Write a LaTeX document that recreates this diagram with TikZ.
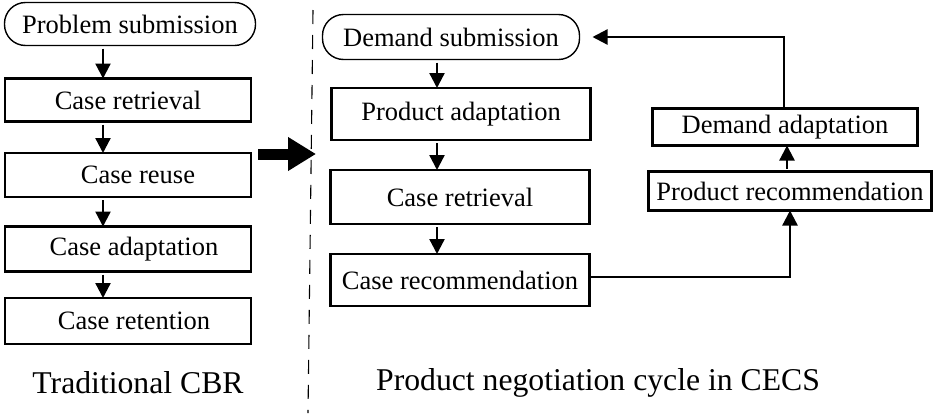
\documentclass[tikz,border=0pt]{standalone}
\usepackage{fontspec}
\setmainfont{Liberation Serif}
\usetikzlibrary{arrows.meta,positioning}
\tikzset{
    %Define standard arrow tip
    >={Triangle[length=15pt,width=15pt]},
    %Define style for boxes
    stepbox/.style={
           rectangle,
           draw=black,
           line width=2.8pt,
           minimum width=246pt,
           minimum height=44pt,
           inner sep=0pt,
           outer sep=0pt,
           font=\fontsize{26.5}{28}\selectfont},
    roundbox/.style={
           stepbox,
           line width=1.4pt,
           rounded corners=21pt},
    % Define arrow style
    flow/.style={
           ->,
           line width=2.3pt,
           shorten <=3pt},
    caption/.style={font=\fontsize{31.7}{34}\selectfont}
}
\begin{document}
\begin{tikzpicture}[x=1pt,y=-1pt]
  \useasboundingbox (0,0) rectangle (933,413);
  % lanes for the vertical arrows
  \coordinate (cbrlane) at (103,0);
  \coordinate (neglane) at (437,0);
  \coordinate (uplane) at (787,0);
  \coordinate (backlane) at (784,0);
  % traditional CBR
  \node[roundbox,minimum width=251pt,minimum height=43pt] (probsub) at (130,24) {Problem submission};
  \node[stepbox,minimum height=43pt] (cbrretr) at (128,100) {Case retrieval};
  \node[stepbox] (cbrreuse) at (128,175) {\hspace*{20pt}Case reuse};
  \node[stepbox,minimum height=45pt] (cbradapt) at (128,249) {\hspace*{12pt}Case adaptation};
  \node[stepbox,minimum height=46pt] (cbrretain) at (128,321) {\hspace*{12pt}Case retention};
  \foreach \a/\b in {probsub/cbrretr,cbrretr/cbrreuse,cbrreuse/cbradapt,cbradapt/cbrretain}
    \draw[flow] (cbrlane |- \a.south) -- (cbrlane |- \b.north);
  \node[caption] (cbrlabel) at (138,383) {Traditional CBR};
  % separator and transition
  \coordinate (septop) at (313,10);
  \coordinate (sepbot) at (308,413);
  \draw[line width=1.1pt,dash pattern=on 14pt off 11pt] (septop) -- (sepbot);
  \coordinate (fatstart) at (258,154);
  \coordinate (fatend) at (316,154);
  \draw[line width=11pt,-{Triangle[length=28pt,width=32pt]}] (fatstart) -- (fatend);
  % negotiation cycle
  \node[roundbox,minimum width=257pt,minimum height=45pt] (demsub) at (451,37) {Demand submission};
  \node[stepbox,minimum width=259pt,minimum height=52pt] (prodadapt) at (461,114) {Product adaptation};
  \node[stepbox,minimum width=259pt,minimum height=54pt] (negretr) at (460,197) {Case retrieval};
  \node[stepbox,minimum width=259pt,minimum height=52pt] (caserec) at (460,280) {Case recommendation};
  \foreach \a/\b in {demsub/prodadapt,prodadapt/negretr,negretr/caserec}
    \draw[flow] (neglane |- \a.south) -- (neglane |- \b.north);
  \node[stepbox,minimum width=265pt,minimum height=37pt] (demadapt) at (785,127) {Demand adaptation};
  \node[stepbox,minimum width=283pt,minimum height=39pt] (prodrec) at (790,191) {Product recommendation};
  \draw[flow,shorten <=0pt] ([yshift=3pt]caserec.east) -| (prodrec.south);
  \draw[flow] (uplane |- prodrec.north) -- (uplane |- demadapt.south);
  \draw[flow,shorten <=0pt] (backlane |- demadapt.north) |- ([xshift=13pt]demsub.east);
  \node[caption] (neglabel) at (598,383) {Product negotiation cycle in CECS};
\end{tikzpicture}
\end{document}
